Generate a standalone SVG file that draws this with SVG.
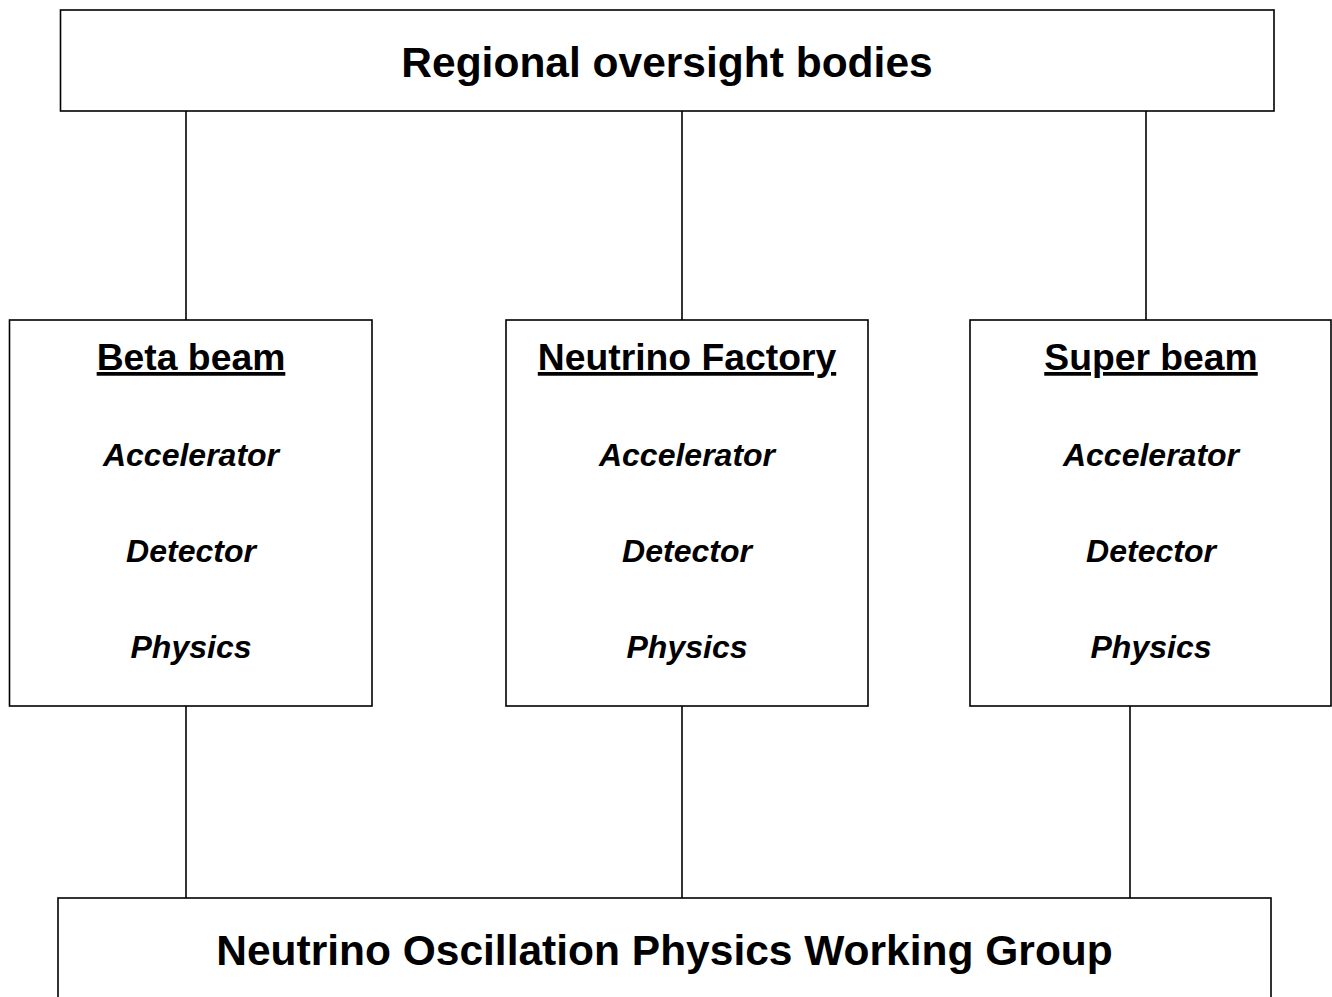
<svg xmlns="http://www.w3.org/2000/svg" width="1332" height="997" viewBox="0 0 1332 997">
<style>
.box{fill:#fff;stroke:#000;stroke-width:1.6}
.con{stroke:#000;stroke-width:1.6;fill:none}
text{font-family:"Liberation Sans",Arial,sans-serif;fill:#000;text-anchor:middle;font-weight:bold}
.big{font-size:42.5px}
.head{font-size:37.3px;text-decoration:underline}
.item{font-size:32px;font-style:italic}
</style>
<rect width="1332" height="997" fill="#fff"/>
<g id="connectors">
<line class="con" x1="186" y1="111" x2="186" y2="320"/>
<line class="con" x1="682" y1="111" x2="682" y2="320"/>
<line class="con" x1="1146" y1="111" x2="1146" y2="320"/>
<line class="con" x1="186" y1="706" x2="186" y2="898"/>
<line class="con" x1="682" y1="706" x2="682" y2="898"/>
<line class="con" x1="1130" y1="706" x2="1130" y2="898"/>
</g>
<g id="regional">
<rect class="box" x="60.5" y="10" width="1213.5" height="101"/>
<text class="big" x="667" y="77">Regional oversight bodies</text>
</g>
<g id="beta">
<rect class="box" x="9.5" y="320" width="362.5" height="386"/>
<text class="head" x="191" y="370">Beta beam</text>
<text class="item" x="191" y="466">Accelerator</text>
<text class="item" x="191" y="562">Detector</text>
<text class="item" x="191" y="658">Physics</text>
</g>
<g id="nufact">
<rect class="box" x="506" y="320" width="362" height="386"/>
<text class="head" x="687" y="370">Neutrino Factory</text>
<text class="item" x="687" y="466">Accelerator</text>
<text class="item" x="687" y="562">Detector</text>
<text class="item" x="687" y="658">Physics</text>
</g>
<g id="super">
<rect class="box" x="970" y="320" width="361" height="386"/>
<text class="head" x="1151" y="370">Super beam</text>
<text class="item" x="1151" y="466">Accelerator</text>
<text class="item" x="1151" y="562">Detector</text>
<text class="item" x="1151" y="658">Physics</text>
</g>
<g id="working">
<rect class="box" x="58" y="898" width="1213" height="130"/>
<text class="big" x="664.5" y="965">Neutrino Oscillation Physics Working Group</text>
</g>
</svg>
